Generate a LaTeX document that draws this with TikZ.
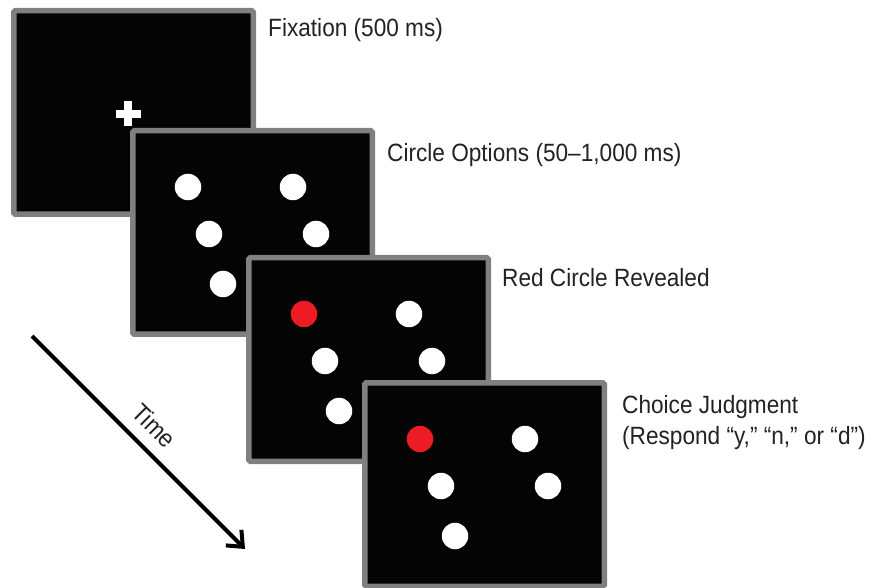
\documentclass[tikz,border=0pt]{standalone}
\usepackage{fontspec}
\setmainfont{Liberation Sans}[FakeStretch=0.905]
\usetikzlibrary{arrows.meta,calc}

\definecolor{framegray}{RGB}{128,128,128}
\definecolor{screenblack}{RGB}{4,4,4}
\definecolor{cuered}{RGB}{237,28,36}
\definecolor{labelgray}{RGB}{34,34,34}

\tikzset{
  panel/.style={draw=framegray, fill=screenblack, line width=5.5pt,
    rounded corners=1.5pt, inner sep=0pt, anchor=north west,
    minimum width=239.5pt, minimum height=203.5pt},
  dot/.style={circle, fill=white, draw=none, inner sep=0pt, minimum size=26.5pt},
  reddot/.style={dot, fill=cuered},
  caption/.style={anchor=base west, inner sep=0pt, text=labelgray,
    font=\fontsize{25}{31}\selectfont},
  timearrow/.style={line width=4pt, draw=black,
    -{Straight Barb[length=13pt, width=22pt]}},
}

\begin{document}
\begin{tikzpicture}[x=1pt, y=-1pt]
\useasboundingbox (0,0) rectangle (879,588);

% fixation screen
\node[panel] (p1) at (11,8) {};
\fill[white] (128,114) ++(-12.5,-4) rectangle ++(25,8);
\fill[white] (128,114) ++(-4,-12.5) rectangle ++(8,25);

% circle options screen
\node[panel] (p2) at (130,128) {};
\foreach \dx/\dy [count=\i] in {58/59, 163/59, 79/106, 186/106, 93/156}
  \node[dot] (a\i) at ($(p2.north west)+(\dx,\dy)$) {};

% red circle revealed screen
\node[panel] (p3) at (246,255) {};
\node[reddot] (b1) at ($(p3.north west)+(58,59)$) {};
\foreach \dx/\dy [count=\i from 2] in {163/59, 79/106, 186/106, 93/156}
  \node[dot] (b\i) at ($(p3.north west)+(\dx,\dy)$) {};

% choice judgment screen
\node[panel] (p4) at (362,380) {};
\node[reddot] (c1) at ($(p4.north west)+(58,59)$) {};
\foreach \dx/\dy [count=\i from 2] in {163/59, 79/106, 186/106, 93/156}
  \node[dot] (c\i) at ($(p4.north west)+(\dx,\dy)$) {};

% stage captions
\node[caption] (t1) at (268,37) {Fixation (500 ms)};
\node[caption] (t2) at (387,162) {Circle Options (50–1,000 ms)};
\node[caption] (t3) at (502,287) {Red Circle Revealed};
\node[caption] (t4) at (622,413) {Choice Judgment};
\node[caption] (t5) at (622,444) {(Respond “y,” “n,” or “d”)};

% time axis, label on the upper-right side of the arrow
\coordinate (ts) at (32,336);
\coordinate (te) at (245,549);
\draw[timearrow] (ts) -- (te);
\node[rotate=-45, inner sep=0pt, text=labelgray,
  font=\fontsize{25}{31}\selectfont] (tl) at ($(ts)!0.5!(te)+(16,-17)$) {Time};
\end{tikzpicture}
\end{document}
